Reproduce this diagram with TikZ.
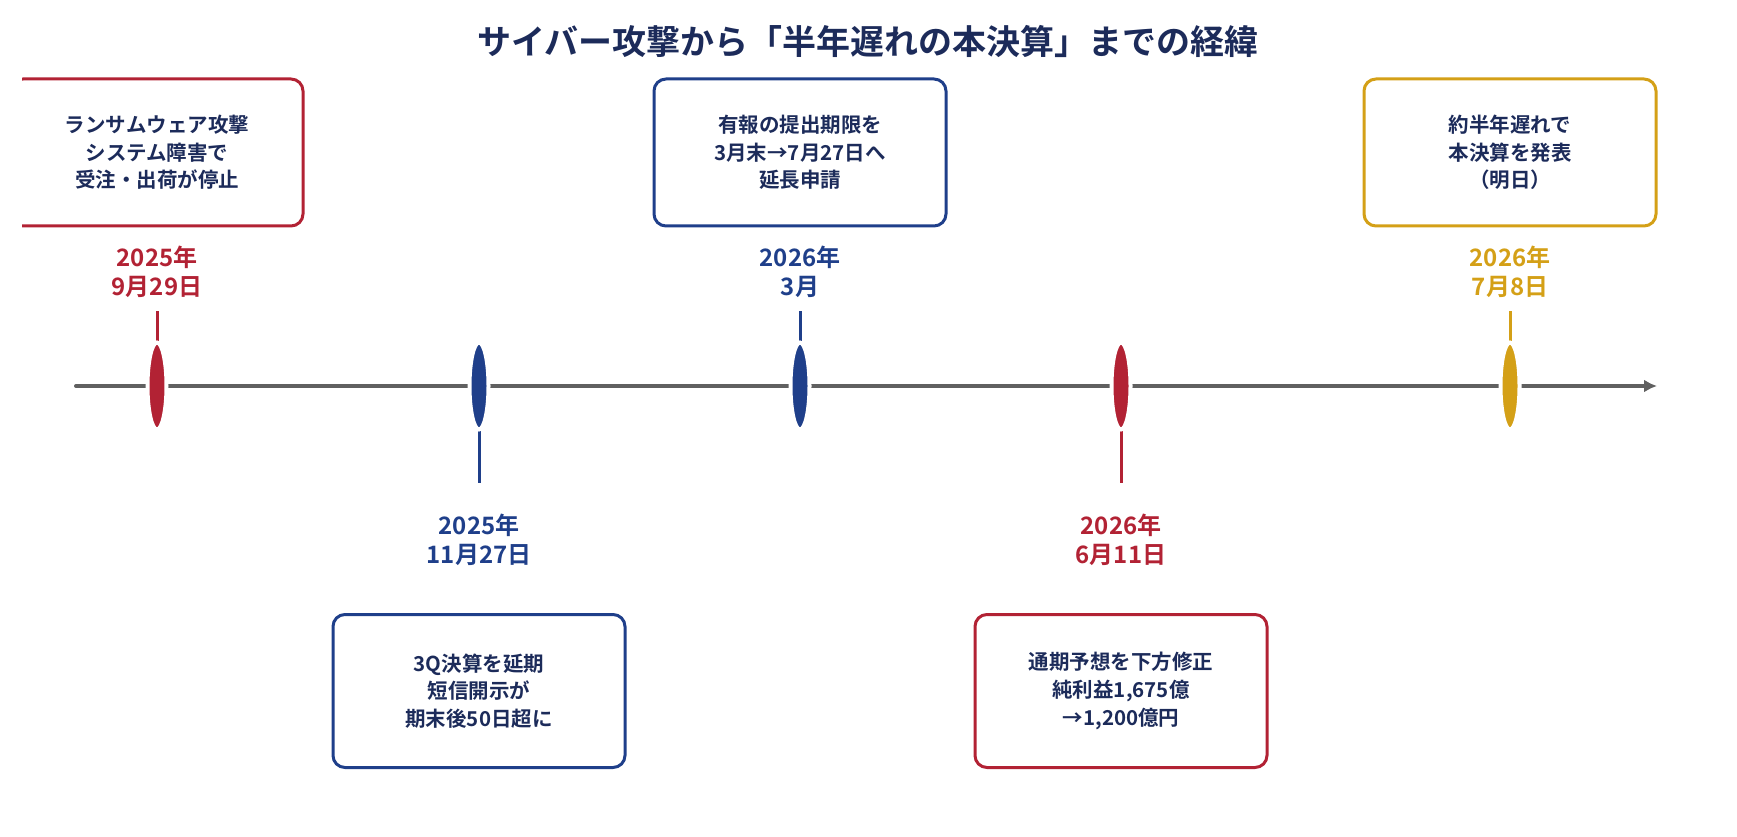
\documentclass[tikz,border=0pt]{standalone}
\usepackage{fontspec}
\setmainfont{Noto Sans CJK JP}[BoldFont={Noto Sans CJK JP Bold}]
\usepackage{xcolor}
\usetikzlibrary{arrows.meta,shapes.geometric}

\definecolor{cred}{HTML}{B22234}
\definecolor{cblue}{HTML}{1F3F8A}
\definecolor{cgold}{HTML}{D4A017}
\definecolor{cnavy}{HTML}{1C2B5A}
\definecolor{caxis}{HTML}{606060}

\begin{document}
\begin{tikzpicture}[x=1pt,y=-1pt,
    eventbox/.style={draw,line width=3pt,rounded corners=12pt,minimum width=292pt,inner sep=0pt,
        align=center,text=cnavy,font=\fontsize{20.5}{27.7}\selectfont\bfseries},
    datelbl/.style={align=center,inner sep=0pt,font=\fontsize{24}{29}\selectfont\bfseries},
    marker/.style={ellipse,draw=white,line width=4pt,minimum width=19pt,minimum height=87pt,inner sep=0pt},
    tickline/.style={line width=3pt}]
    \useasboundingbox (0,0) rectangle (1737,837);
    \clip (22,0) rectangle (1737,837);
    % title
    \node [text=cnavy,font=\fontsize{34}{40}\selectfont\bfseries] (title) at (868,41)
        {サイバー攻撃から「半年遅れの本決算」までの経緯};
    % events on the axis
    \foreach \i/\x in {1/157,2/479,3/800,4/1121,5/1510} { \coordinate (p\i) at (\x,386); }
    % boxes
    \node [eventbox,draw=cred,minimum height=147pt] (b1) at (157,152.5) {ランサムウェア攻撃\\システム障害で\\受注・出荷が停止};
    \node [eventbox,draw=cblue,minimum height=153pt] (b2) at (479,691) {3Q決算を延期\\短信開示が\\期末後50日超に};
    \node [eventbox,draw=cblue,minimum height=147pt] (b3) at (800,152.5) {有報の提出期限を\\3月末→7月27日へ\\延長申請};
    \node [eventbox,draw=cred,minimum height=153pt] (b4) at (1121,691) {通期予想を下方修正\\純利益1,675億\\→1,200億円};
    \node [eventbox,draw=cgold,minimum height=147pt] (b5) at (1510,152.5) {約半年遅れで\\本決算を発表\\（明日）};
    % dates
    \node [datelbl,text=cred] (d1) at (157,272) {2025年\\9月29日};
    \node [datelbl,text=cblue] (d2) at (479,540) {2025年\\11月27日};
    \node [datelbl,text=cblue] (d3) at (800,272) {2026年\\3月};
    \node [datelbl,text=cred] (d4) at (1121,540) {2026年\\6月11日};
    \node [datelbl,text=cgold] (d5) at (1510,272) {2026年\\7月8日};
    % axis
    \coordinate (axstart) at (76,386);
    \coordinate (axend) at (1657,386);
    \draw [line width=4pt,caxis,line cap=round,-{Latex[length=13pt,width=13pt]}] (axstart) -- (axend);
    % ticks
    \foreach \i/\c in {1/cred,3/cblue,5/cgold} { \draw [tickline,\c,shorten <=13pt] (d\i.south) -- (p\i); }
    \foreach \i/\c in {2/cblue,4/cred} { \draw [tickline,\c,shorten >=31pt] (p\i) -- (d\i.north); }
    % markers
    \foreach \i/\c in {1/cred,2/cblue,3/cblue,4/cred,5/cgold} { \node [marker,fill=\c] (m\i) at (p\i) {}; }
\end{tikzpicture}
\end{document}
